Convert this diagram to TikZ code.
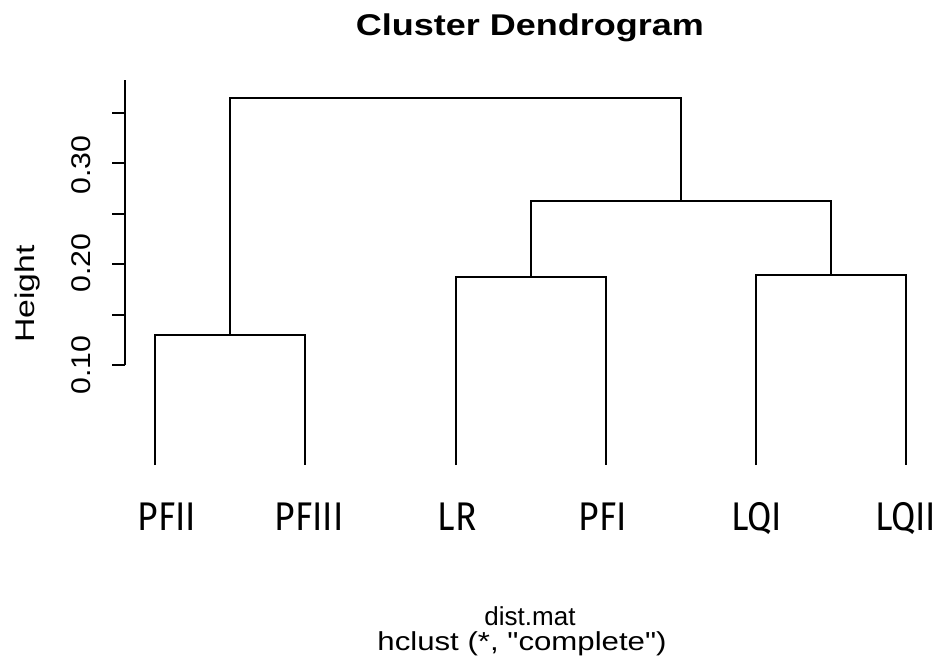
\documentclass[tikz,border=0pt]{standalone}
\usepackage{fontspec}
\setmainfont{Liberation Sans}
\newfontfamily\rawfont{Liberation Sans}
\newfontfamily\leaffont{Fira Sans}
\begin{document}
\begin{tikzpicture}[x=1pt,y=-1pt,
  branch/.style={draw=black,line width=2pt,line join=miter},
  axisline/.style={draw=black,line width=2pt},
  ticklab/.style={font=\fontsize{27}{30}\selectfont,rotate=90,anchor=center,inner sep=0pt},
  leaflab/.style={font=\leaffont\fontsize{40}{44}\selectfont,anchor=base,inner sep=0pt},
  plaintext/.style={font=\fontsize{26}{28}\selectfont,inner sep=0pt,anchor=base}]
\useasboundingbox (0,0) rectangle (950,665);
% leaves
\coordinate (l1) at (155,465);
\coordinate (l2) at (305,465);
\coordinate (l3) at (456,465);
\coordinate (l4) at (606,465);
\coordinate (l5) at (756,465);
\coordinate (l6) at (906,465);
% merges
\coordinate (mA) at (230,335);
\coordinate (mB) at (531,277);
\coordinate (mC) at (831,275);
\coordinate (mD) at (681,201);
\coordinate (mE) at (455.5,98);
% dendrogram
\draw[branch] (l1) -- (l1 |- mA) -- (l2 |- mA) -- (l2);
\draw[branch] (l3) -- (l3 |- mB) -- (l4 |- mB) -- (l4);
\draw[branch] (l5) -- (l5 |- mC) -- (l6 |- mC) -- (l6);
\draw[branch] (mB) -- (mB |- mD) -- (mC |- mD) -- (mC);
\draw[branch] (mA) -- (mA |- mE) -- (mD |- mE) -- (mD);
% axis
\coordinate (ax0) at (125,365);
\coordinate (ax1) at (125,80);
\draw[axisline] (ax0) -- (ax1);
\foreach \yy in {365,314.6,264.2,213.8,163.4,113}{
  \draw[axisline] (125,\yy) -- (112,\yy);
}
\node[ticklab] (t10) at (81,365) {\scalebox{1.12}[1]{0.10}};
\node[ticklab] (t20) at (81,263) {\scalebox{1.12}[1]{0.20}};
\node[ticklab] (t30) at (81,165) {\scalebox{1.12}[1]{0.30}};
\node[ticklab,anchor=base] (ylab) at (34,294) {\scalebox{1.25}[1]{Height}};
% leaf labels
\node[leaflab] (n1) at (167,530) {\scalebox{0.88}[1]{PFII}};
\node[leaflab] (n2) at (309,530) {\scalebox{0.88}[1]{PFIII}};
\node[leaflab] (n3) at (457,530) {\scalebox{0.88}[1]{LR}};
\node[leaflab] (n4) at (603,530) {\scalebox{0.88}[1]{PFI}};
\node[leaflab] (n5) at (757,530) {\scalebox{0.88}[1]{LQI}};
\node[leaflab,anchor=base west] (n6) at (875,530) {\scalebox{0.88}[1]{LQII}};
% titles
\node[font=\bfseries\fontsize{30}{32}\selectfont,inner sep=0pt,anchor=base] (title) at (530,35) {\scalebox{1.2}[1]{Cluster Dendrogram}};
\node[plaintext] (sub1) at (530,625) {dist.mat};
\node[plaintext] (sub2) at (522,650) {\scalebox{1.2}[1]{hclust (*, {\rawfont\symbol{34}}complete{\rawfont\symbol{34}})}};
\end{tikzpicture}
\end{document}
